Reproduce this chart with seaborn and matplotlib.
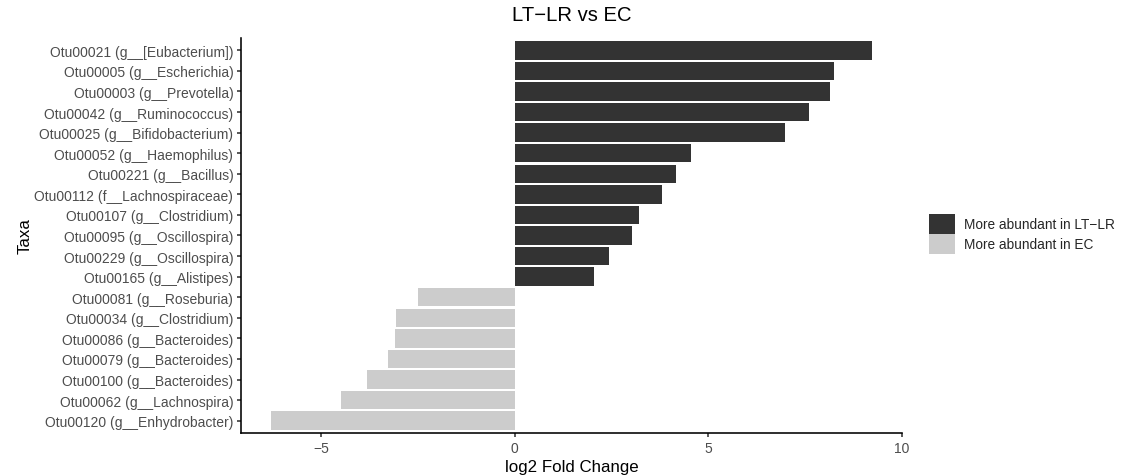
import matplotlib
matplotlib.use("Agg")
import matplotlib.pyplot as plt
import seaborn as sns
import pandas as pd
import numpy as np

# Differentially abundant OTUs, ordered top to bottom
taxa = [
    "Otu00021 (g__[Eubacterium])",
    "Otu00005 (g__Escherichia)",
    "Otu00003 (g__Prevotella)",
    "Otu00042 (g__Ruminococcus)",
    "Otu00025 (g__Bifidobacterium)",
    "Otu00052 (g__Haemophilus)",
    "Otu00221 (g__Bacillus)",
    "Otu00112 (f__Lachnospiraceae)",
    "Otu00107 (g__Clostridium)",
    "Otu00095 (g__Oscillospira)",
    "Otu00229 (g__Oscillospira)",
    "Otu00165 (g__Alistipes)",
    "Otu00081 (g__Roseburia)",
    "Otu00034 (g__Clostridium)",
    "Otu00086 (g__Bacteroides)",
    "Otu00079 (g__Bacteroides)",
    "Otu00100 (g__Bacteroides)",
    "Otu00062 (g__Lachnospira)",
    "Otu00120 (g__Enhydrobacter)",
]
log2_fold_change = [
    9.23, 8.24, 8.14, 7.60, 6.98, 4.55, 4.16, 3.80, 3.21, 3.03, 2.44, 2.05,
    -2.50, -3.07, -3.09, -3.27, -3.81, -4.48, -6.29,
]
group_labels = ["More abundant in LT\u2212LR", "More abundant in EC"]
group_colors = ["#333333", "#CCCCCC"]
x_ticks = [-5, 0, 5, 10]

df = pd.DataFrame({"Taxa": taxa, "log2FC": log2_fold_change})
df["Group"] = np.where(df["log2FC"] > 0, group_labels[0], group_labels[1])

sns.set_theme(style="ticks")
plt.rcParams["font.family"] = ["Liberation Sans", "DejaVu Sans"]
plt.rcParams["axes.unicode_minus"] = True

fig = plt.figure(figsize=(11.26, 4.77), dpi=100)
ax = fig.add_axes([0.21403, 0.09015, 0.58721, 0.82809])

sns.barplot(
    data=df, x="log2FC", y="Taxa", hue="Group",
    order=taxa, hue_order=group_labels, palette=group_colors,
    dodge=False, width=0.9, linewidth=0, saturation=1,
    orient="h", ax=ax,
)

# Axis ranges: 5% padding on the continuous axis, 0.6 on the discrete one
lo, hi = min(log2_fold_change), max(log2_fold_change)
pad = 0.05 * (hi - lo)
ax.set_xlim(lo - pad, hi + pad)
ax.set_ylim(len(taxa) - 1 + 0.6, -0.6)
ax.set_xticks(x_ticks)

sns.despine(ax=ax)
for side in ("left", "bottom"):
    ax.spines[side].set_linewidth(1.15)
    ax.spines[side].set_color("black")
ax.tick_params(length=3, width=1.15, color="#333333", pad=2.5,
               labelsize=10, labelcolor="#4D4D4D")
ax.grid(False)

ax.set_xlabel("log2 Fold Change", fontsize=12.2, color="black", va="center")
ax.xaxis.set_label_coords(0.5, -0.084)
ax.set_ylabel("Taxa", fontsize=12.2, color="black", va="center")
ax.yaxis.set_label_coords(-0.3266, 0.5)
ax.set_title("LT\u2212LR vs EC", fontsize=14.6, pad=13.2, color="black")

handles, labels = ax.get_legend_handles_labels()
ax.legend(
    handles, labels, loc="upper left",
    bbox_to_anchor=(929 / 1126, 1 - 215 / 477), bbox_transform=fig.transFigure,
    frameon=False, fontsize=9.8, handlelength=1.875, handleheight=1.875,
    handletextpad=0.66, labelspacing=0, borderpad=0, borderaxespad=0,
)

fig.savefig("out.png", dpi=100)
